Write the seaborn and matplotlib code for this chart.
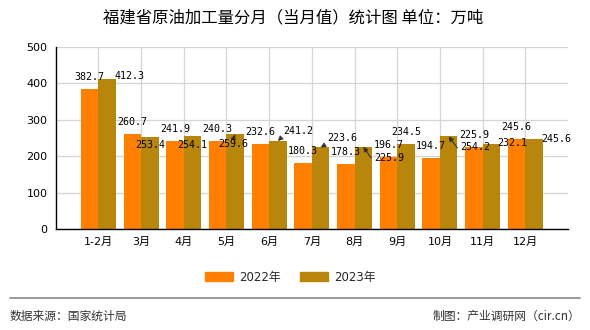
import matplotlib
matplotlib.use("Agg")
import matplotlib.pyplot as plt
import seaborn as sns
import pandas as pd

# ---- data ----
months = ["1-2月", "3月", "4月", "5月", "6月", "7月", "8月", "9月", "10月", "11月", "12月"]
values_2022 = [382.7, 260.7, 241.9, 240.3, 232.6, 180.3, 178.3, 196.7, 194.7, 225.9, 245.6]
values_2023 = [412.3, 253.4, 254.1, 259.6, 241.2, 223.6, 225.9, 234.5, 254.2, 232.1, 245.6]
series = ["2022年", "2023年"]
colors = ["#FF8000", "#B8860B"]

title = "福建省原油加工量分月（当月值）统计图 单位：万吨"
source_text = "数据来源：国家统计局"
maker_text = "制图：产业调研网（cir.cn）"

# label layout (pixel offsets from the bar top) for the 2023 labels, as in the reference
offsets_2023 = [(22, 3), (0, -8), (0, -9), (-2, -10), (20, 10), (22, 9), (26, -11),
                (0, 12), (27, -11), (21, 1), (22, 0)]
arrow_2023 = [None, None, None, (0.5, 1), (0, 0), (0, 0), (0, 0), None, (0, 0), None, None]

df = pd.DataFrame({
    "month": months * 2,
    "value": values_2022 + values_2023,
    "series": [series[0]] * len(months) + [series[1]] * len(months),
})

sns.set_theme(style="white")
plt.rcParams["font.family"] = ["DejaVu Sans", "Noto Sans CJK SC"]

fig = plt.figure(figsize=(5.9, 3.3), dpi=100)
ax = fig.add_axes([0.0944, 0.306, 0.9627 - 0.0944, 0.8585 - 0.306])

sns.barplot(data=df, x="month", y="value", hue="series", palette=colors,
            width=0.82, saturation=1, ax=ax, legend=False, zorder=2,
            linewidth=0, edgecolor="none")

ax.set_xlim(-1, 11)
ax.set_ylim(0, 500)
ax.set_yticks([0, 100, 200, 300, 400, 500])
ax.set_xlabel("")
ax.set_ylabel("")

for side in ["top", "right"]:
    ax.spines[side].set_visible(False)
for side in ["left", "bottom"]:
    ax.spines[side].set_color("black")
    ax.spines[side].set_linewidth(1.0)

ax.grid(True, axis="both", color="#d4d4d4", linewidth=0.9, zorder=0)
ax.set_axisbelow(True)
ax.tick_params(axis="both", which="major", direction="out", length=4.5, width=1,
               color="black", labelsize=8, labelcolor="black", pad=1.5)
ax.set_xticks([-1, 11], minor=True)
ax.tick_params(axis="x", which="minor", direction="out", length=4.5, width=1, color="black")
for lab in ax.get_xticklabels() + ax.get_yticklabels():
    lab.set_fontfamily(["DejaVu Sans", "Noto Sans CJK SC"])

# data labels
bars_2022 = ax.containers[0]
bars_2023 = ax.containers[1]
lab_font = dict(fontsize=7.2, family="DejaVu Sans Mono", color="black")
for rect, v in zip(bars_2022, values_2022):
    ax.annotate(f"{v:.1f}", (rect.get_x() + rect.get_width() / 2, rect.get_height()),
                xytext=(0, 12), textcoords="offset pixels", ha="center", va="center",
                zorder=5, **lab_font)
for rect, v, (dx, dy), rel in zip(bars_2023, values_2023, offsets_2023, arrow_2023):
    kw = {}
    if rel is not None:
        kw["arrowprops"] = dict(arrowstyle="-|>", color="#333333", lw=0.8,
                                mutation_scale=7, shrinkA=0, shrinkB=0, relpos=rel)
    ax.annotate(f"{v:.1f}", (rect.get_x() + rect.get_width() / 2, rect.get_height()),
                xytext=(dx, dy), textcoords="offset pixels", ha="center", va="center",
                zorder=5, **lab_font, **kw)

# title
fig.text(0.497, 1 - 18 / 330, title, ha="center", va="center", fontsize=11.8,
         family=["Noto Sans CJK SC", "DejaVu Sans"], color="black")

# legend
handles = [plt.Rectangle((0, 0), 1, 1, color=c) for c in colors]
fig.legend(handles, series, loc="center", bbox_to_anchor=(0.492, 1 - 277.5 / 330),
           ncol=2, frameon=False, handlelength=2.4, handleheight=0.8,
           handletextpad=0.5, columnspacing=1.6,
           prop={"family": ["DejaVu Sans", "Noto Sans CJK SC"], "size": 8.5})

# footer
fig.add_artist(plt.Line2D([10 / 590, 580 / 590], [1 - 297.5 / 330] * 2,
                          color="#888888", linewidth=1.2, transform=fig.transFigure))
fig.text(10 / 590, 1 - 316 / 330, source_text, ha="left", va="center", fontsize=8.5,
         family=["Noto Sans CJK SC", "DejaVu Sans"], color="#333333")
fig.text(580 / 590, 1 - 316 / 330, maker_text, ha="right", va="center", fontsize=8.5,
         family=["Noto Sans CJK SC", "DejaVu Sans"], color="#333333")

fig.savefig("out.png", dpi=100)
